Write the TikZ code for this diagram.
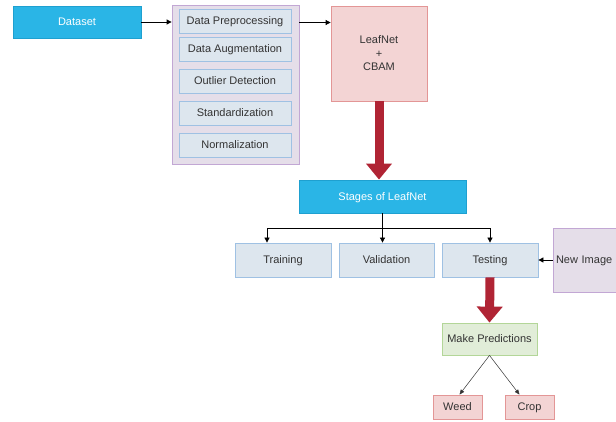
\documentclass[tikz,border=0pt]{standalone}
\usepackage{fontspec}
\setmainfont{Liberation Sans}
\usetikzlibrary{arrows.meta}
\definecolor{cyanfill}{RGB}{42,181,230}
\definecolor{cyanline}{RGB}{30,160,208}
\definecolor{contfill}{RGB}{229,222,233}
\definecolor{contline}{RGB}{194,167,212}
\definecolor{boxfill}{RGB}{221,230,238}
\definecolor{boxline}{RGB}{159,193,227}
\definecolor{pinkfill}{RGB}{243,212,212}
\definecolor{pinkline}{RGB}{227,150,150}
\definecolor{greenfill}{RGB}{225,237,216}
\definecolor{greenline}{RGB}{179,214,152}
\definecolor{fatred}{RGB}{176,36,52}
\definecolor{txt}{RGB}{51,51,51}
\tikzset{
  base/.style={draw, line width=0.8pt, inner sep=0pt, font=\fontsize{11}{13.5}\selectfont, text=txt, align=center, text height=7.9pt, text depth=0pt},
  cyanbox/.style={base, fill=cyanfill, draw=cyanline, text=white},
  contbox/.style={base, fill=contfill, draw=contline},
  stepbox/.style={base, fill=boxfill, draw=boxline},
  pinkbox/.style={base, fill=pinkfill, draw=pinkline},
  greenbox/.style={base, fill=greenfill, draw=greenline},
  arr/.style={draw=black, line width=0.8pt, -{Triangle[length=5pt,width=5pt]}},
  thinarr/.style={draw=txt, line width=0.5pt, -{Triangle[length=5pt,width=4pt]}},
  fatarr/.style={draw=fatred, line width=9pt, -{Triangle[length=16pt,width=25pt]}},
}
\begin{document}
\begin{tikzpicture}[x=1pt,y=-1pt]
\useasboundingbox (0,0) rectangle (616,422);
\node[cyanbox, minimum width=128pt, minimum height=32pt] (dataset) at (77,22) {Dataset};
\node[contbox, minimum width=127pt, minimum height=159pt] (cont) at (235.5,84.5) {};
\node[stepbox, minimum width=112pt, minimum height=24pt] (pre) at (235,21) {Data Preprocessing};
\node[stepbox, minimum width=112pt, minimum height=24pt] (aug) at (235,49) {Data Augmentation};
\node[stepbox, minimum width=112pt, minimum height=24pt] (out) at (235,81) {Outlier Detection};
\node[stepbox, minimum width=112pt, minimum height=24pt] (std) at (235,113) {Standardization};
\node[stepbox, minimum width=112pt, minimum height=24pt] (nrm) at (235,145) {Normalization};
\node[pinkbox, minimum width=96pt, minimum height=95pt, text height=, text depth=] (leaf) at (379,53.5) {LeafNet\\+\\CBAM};
\node[cyanbox, minimum width=167pt, minimum height=33pt] (stages) at (382.5,196.5) {Stages of LeafNet};
\node[stepbox, minimum width=96pt, minimum height=34pt] (train) at (283,260) {Training};
\node[stepbox, minimum width=95pt, minimum height=34pt] (valid) at (386.5,260) {Validation};
\node[stepbox, minimum width=96pt, minimum height=34pt] (test) at (490,260) {Testing};
\node[contbox, minimum width=67pt, minimum height=64pt, text width=61pt, align=left, inner xsep=3pt] (newimg) at (586.5,260) {New Image};
\node[greenbox, minimum width=95pt, minimum height=32pt] (pred) at (489.5,339) {Make Predictions};
\node[pinkbox, minimum width=49pt, minimum height=24pt] (weed) at (457.5,407) {Weed};
\node[pinkbox, minimum width=49pt, minimum height=24pt] (crop) at (529.5,407) {Crop};
% connectors
\draw[arr] (dataset.east) -- (dataset.east -| cont.west);
\draw[arr] ([yshift=-1.5pt]pre.east -| cont.east) -- ([yshift=-1.5pt]pre.east -| leaf.west);
\draw[fatarr] (leaf.south) -- (leaf.south |- stages.north);
\draw[arr] (stages.south) -- (stages.south |- valid.north);
\draw[arr] (stages.south) -- ++(0,15) -| ([xshift=-16pt]train.north);
\draw[arr] (stages.south) -- ++(0,15) -| (test.north);
\draw[arr] (newimg.west) -- (test.east);
\draw[fatarr] (test.south) -- (pred.north);
\draw[thinarr] (pred.south) -- ([xshift=2pt]weed.north);
\draw[thinarr] (pred.south) -- ([xshift=-10pt]crop.north);
\end{tikzpicture}
\end{document}
